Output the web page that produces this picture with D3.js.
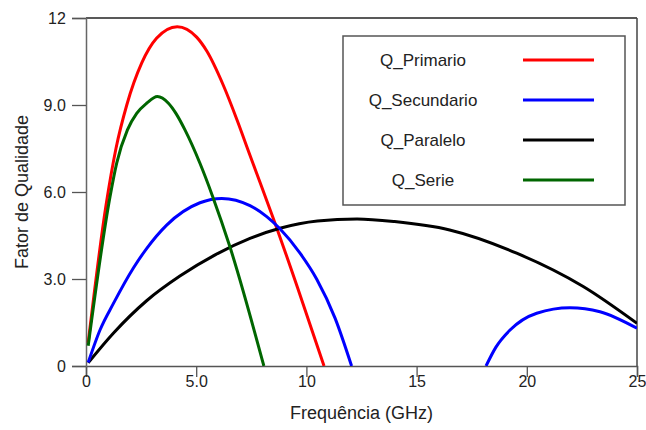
<!DOCTYPE html>
<html><head><meta charset="utf-8">
<script src="https://cdn.jsdelivr.net/npm/d3@7"></script>
<style>body{margin:0;background:#fff}svg{display:block}text{font-family:"Liberation Sans",Arial,sans-serif}</style>
</head><body><svg id="c" width="646" height="430"></svg>
<script>
const xTicks = [0, 5, 10, 15, 20, 25];
const xTickLabels = ["0", "5.0", "10", "15", "20", "25"];
const yTicks = [0, 3, 6, 9, 12];
const yTickLabels = ["0", "3.0", "6.0", "9.0", "12"];
const seriesNames = ["Q_Primario", "Q_Secundario", "Q_Paralelo", "Q_Serie"];
const seriesColors = ["#ff0000", "#0000ff", "#000000", "#006600"];

const primF = [0.1, 0.91, 1.36, 1.85, 2.53, 3.2, 4.14, 5.02, 5.48, 6.23, 6.87, 7.41, 7.97, 8.47, 9.6, 10.8];
const primQ = [0.8, 5.55, 7.5, 9.0, 10.45, 11.3, 11.7, 11.34, 10.86, 9.68, 8.45, 7.33, 6.18, 5.15, 2.7, 0];

const secF1 = [0.1, 0.64, 1.24, 2.15, 2.75, 3.66, 5.17, 6.16, 7.44, 8.2, 8.8, 9.71, 10.47, 11.3, 12.05];
const secQ1 = [0.12, 1.25, 2.15, 3.38, 4.05, 4.86, 5.63, 5.78, 5.53, 5.15, 4.73, 3.89, 2.99, 1.65, 0];
const secF2 = [18.15, 18.6, 19.24, 20.45, 21.96, 23.32, 25];
const secQ2 = [0, 0.65, 1.24, 1.82, 2.01, 1.87, 1.3];

const parF = [0.1, 1.24, 2.75, 4.26, 5.9, 7.44, 8.8, 10.5, 12.3, 14.0, 16.5, 19.54, 22.56, 25];
const parQ = [0.11, 1.13, 2.25, 3.1, 3.85, 4.4, 4.75, 5.0, 5.07, 4.98, 4.69, 3.89, 2.74, 1.47];

const serF = [0.1, 1.09, 1.39, 1.88, 2.3, 2.75, 3.24, 3.74, 4.08, 4.49, 5.17, 5.75, 6.53, 8.07];
const serQ = [0.7, 5.84, 6.99, 8.14, 8.71, 9.06, 9.29, 9.06, 8.71, 8.14, 6.99, 5.84, 4.11, 0];

const svg = d3.select("#c");
const L = 86, R = 637, T = 18, B = 366;
const x = d3.scaleLinear().domain([0, 25]).range([L, R]);
const y = d3.scaleLinear().domain([0, 12]).range([B, T]);

svg.append("line").attr("x1", L).attr("x2", R).attr("y1", T).attr("y2", T).attr("stroke", "#222").attr("stroke-width", 1.5);
svg.append("line").attr("x1", R).attr("x2", R).attr("y1", T).attr("y2", B).attr("stroke", "#444").attr("stroke-width", 1.5);

const gx = svg.append("g").attr("transform", `translate(0,${B})`);
gx.call(d3.axisBottom(x).tickValues(d3.range(0, 26, 1)).tickSize(6).tickFormat(""));
gx.call(d3.axisBottom(x).tickValues(xTicks).tickSize(11).tickFormat((d, i) => xTickLabels[i]));
gx.selectAll("path.domain").attr("stroke", "#555").attr("stroke-width", 1.5);
gx.selectAll("line").attr("stroke", "#555").attr("stroke-width", 1.3);
gx.selectAll("text").attr("font-size", 16).attr("fill", "#222").attr("dy", "0.45em");

const gy = svg.append("g").attr("transform", `translate(${L},0)`);
gy.call(d3.axisLeft(y).tickValues(d3.range(0, 12.1, 1.5)).tickSize(8).tickFormat(""));
gy.call(d3.axisLeft(y).tickValues(yTicks).tickSize(14).tickFormat((d, i) => yTickLabels[i]));
gy.selectAll("path.domain").attr("stroke", "#666").attr("stroke-width", 1.5);
gy.selectAll("line").attr("stroke", "#555").attr("stroke-width", 1.3);
gy.selectAll("text").attr("font-size", 16).attr("fill", "#222").attr("dx", "-0.2em");

svg.append("text").attr("x", (L + R) / 2).attr("y", 419).attr("text-anchor", "middle")
  .attr("font-size", 18).attr("fill", "#222").text("Frequência (GHz)");
svg.append("text").attr("transform", `translate(28,${(T + B) / 2}) rotate(-90)`).attr("text-anchor", "middle")
  .attr("font-size", 18).attr("fill", "#222").text("Fator de Qualidade");

const line = d3.line().x(d => x(d[0])).y(d => y(d[1])).curve(d3.curveMonotoneX);
const zip = (a, b) => a.map((v, i) => [v, b[i]]);
const curves = [
  [zip(primF, primQ), 0],
  [zip(parF, parQ), 2],
  [zip(secF1, secQ1), 1],
  [zip(secF2, secQ2), 1],
  [zip(serF, serQ), 3]
];
svg.append("clipPath").attr("id", "pc").append("rect").attr("x", L).attr("y", T - 2).attr("width", R - L).attr("height", B - T + 2);
const gc = svg.append("g").attr("clip-path", "url(#pc)");
curves.forEach(([pts, ci]) => {
  gc.append("path").attr("d", line(pts)).attr("fill", "none")
    .attr("stroke", seriesColors[ci]).attr("stroke-width", 3);
});

svg.append("rect").attr("x", 343).attr("y", 36).attr("width", 282).attr("height", 169)
  .attr("fill", "#fff").attr("stroke", "#555").attr("stroke-width", 1.5);
seriesNames.forEach((n, i) => {
  const cy = 60 + i * 40;
  svg.append("text").attr("x", 423).attr("y", cy).attr("dy", "0.35em").attr("text-anchor", "middle")
    .attr("font-size", 17).attr("fill", "#222").text(n);
  svg.append("line").attr("x1", 523).attr("x2", 594).attr("y1", cy).attr("y2", cy)
    .attr("stroke", seriesColors[i]).attr("stroke-width", 3);
});
</script></body></html>
